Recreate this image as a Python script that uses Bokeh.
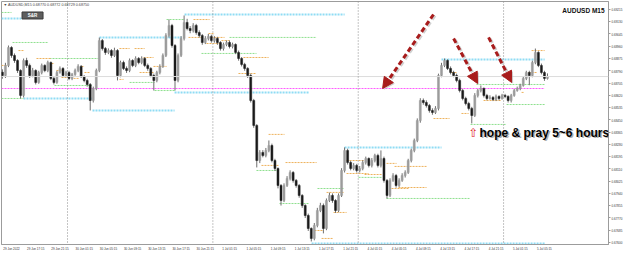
from bokeh.plotting import figure
from bokeh.models import (Range1d, FixedTicker, PrintfTickFormatter, Span, Label,
                          Arrow, NormalHead, AllLabels, ColumnDataSource)
from bokeh.embed import file_html
from bokeh.resources import INLINE

# ---------------- data (AUDUSD, index in M15 bars from 30 Jun 00:00, shown as 30-min candles) -------------
bar_index = list(range(-43, 318, 2))
first_open = 0.68780
closes = [
    0.68757, 0.68827, 0.68951, 0.68896, 0.68861, 0.68792, 0.68619, 0.68861, 0.68827, 0.68757,
    0.68792, 0.68709, 0.68778, 0.68827, 0.68792, 0.68847, 0.68737, 0.68709, 0.68778, 0.68806,
    0.68757, 0.68778, 0.68737, 0.68764, 0.68792, 0.68820, 0.68750, 0.68723, 0.68695, 0.68584,
    0.68667, 0.68792, 0.68999, 0.68944, 0.68917, 0.68930, 0.68896, 0.68930, 0.68757, 0.68847,
    0.68806, 0.68792, 0.68861, 0.68827, 0.68875, 0.68847, 0.68875, 0.68827, 0.68806, 0.68757,
    0.68723, 0.68778, 0.68820, 0.68896, 0.69034, 0.69104, 0.68965, 0.68723, 0.68896, 0.69014,
    0.69125, 0.69083, 0.69069, 0.69104, 0.69055, 0.69034, 0.68986, 0.69014, 0.69028, 0.68999,
    0.69014, 0.68986, 0.68944, 0.68972, 0.68986, 0.68958, 0.68972, 0.68917, 0.68875, 0.68834,
    0.68806, 0.68757, 0.68584, 0.68411, 0.68168, 0.68224, 0.68203, 0.68238, 0.68272, 0.68168,
    0.68113, 0.67995, 0.67891, 0.67995, 0.68044, 0.68085, 0.68030, 0.67995, 0.67926, 0.67856,
    0.67787, 0.67697, 0.67628, 0.67718, 0.67822, 0.67856, 0.67697, 0.67891, 0.67926, 0.67891,
    0.67822, 0.67926, 0.68099, 0.68238, 0.68154, 0.68113, 0.68134, 0.68099, 0.68113, 0.68154,
    0.68182, 0.68134, 0.68168, 0.68203, 0.68134, 0.68182, 0.68030, 0.67926, 0.68030, 0.68064,
    0.67995, 0.68030, 0.68064, 0.68085, 0.68168, 0.68238, 0.68307, 0.68445, 0.68584, 0.68570,
    0.68549, 0.68515, 0.68501, 0.68529, 0.68757, 0.68827, 0.68861, 0.68806, 0.68778, 0.68757,
    0.68723, 0.68653, 0.68598, 0.68563, 0.68529, 0.68480, 0.68619, 0.68653, 0.68667, 0.68619,
    0.68598, 0.68605, 0.68591, 0.68612, 0.68598, 0.68619, 0.68612, 0.68584, 0.68619, 0.68653,
    0.68667, 0.68688, 0.68737, 0.68778, 0.68757, 0.68847, 0.68917, 0.68827, 0.68778, 0.68737,
    0.68750]
highs = [
    0.68800, 0.68845, 0.68965, 0.68960, 0.68910, 0.68870, 0.68800, 0.68875, 0.68880, 0.68840,
    0.68810, 0.68800, 0.68790, 0.68840, 0.68835, 0.68860, 0.68855, 0.68750, 0.68790, 0.68820,
    0.68815, 0.68790, 0.68790, 0.68775, 0.68805, 0.68835, 0.68830, 0.68760, 0.68735, 0.68705,
    0.68680, 0.68805, 0.69020, 0.69010, 0.68955, 0.68945, 0.68940, 0.68950, 0.68940, 0.68860,
    0.68860, 0.68820, 0.68875, 0.68870, 0.68890, 0.68885, 0.68890, 0.68885, 0.68840, 0.68815,
    0.68770, 0.68790, 0.68835, 0.68910, 0.69050, 0.69145, 0.69115, 0.68975, 0.68910, 0.69030,
    0.69173, 0.69150, 0.69100, 0.69120, 0.69115, 0.69070, 0.69045, 0.69030, 0.69045, 0.69040,
    0.69030, 0.69025, 0.68995, 0.68985, 0.69000, 0.69000, 0.68985, 0.68980, 0.68930, 0.68885,
    0.68845, 0.68815, 0.68770, 0.68595, 0.68420, 0.68240, 0.68240, 0.68255, 0.68307, 0.68285,
    0.68180, 0.68120, 0.68005, 0.68010, 0.68060, 0.68100, 0.68095, 0.68040, 0.68005, 0.67935,
    0.67865, 0.67800, 0.67705, 0.67735, 0.67840, 0.67875, 0.67870, 0.67905, 0.67945, 0.67940,
    0.67900, 0.67940, 0.68115, 0.68259, 0.68250, 0.68165, 0.68150, 0.68145, 0.68130, 0.68170,
    0.68195, 0.68190, 0.68185, 0.68215, 0.68215, 0.68238, 0.68195, 0.68040, 0.68045, 0.68080,
    0.68075, 0.68045, 0.68080, 0.68100, 0.68180, 0.68250, 0.68320, 0.68460, 0.68600, 0.68598,
    0.68585, 0.68560, 0.68530, 0.68545, 0.68770, 0.68845, 0.68875, 0.68870, 0.68820, 0.68790,
    0.68770, 0.68735, 0.68665, 0.68610, 0.68575, 0.68540, 0.68635, 0.68665, 0.68688, 0.68675,
    0.68630, 0.68620, 0.68615, 0.68625, 0.68620, 0.68630, 0.68630, 0.68620, 0.68630, 0.68665,
    0.68680, 0.68700, 0.68750, 0.68790, 0.68790, 0.68860, 0.68944, 0.68925, 0.68840, 0.68790,
    0.68772]
lows = [
    0.68735, 0.68740, 0.68815, 0.68880, 0.68845, 0.68775, 0.68598, 0.68605, 0.68810, 0.68740,
    0.68745, 0.68695, 0.68700, 0.68765, 0.68780, 0.68780, 0.68725, 0.68695, 0.68700, 0.68770,
    0.68745, 0.68745, 0.68725, 0.68725, 0.68755, 0.68780, 0.68740, 0.68710, 0.68680, 0.68515,
    0.68570, 0.68655, 0.68780, 0.68930, 0.68900, 0.68905, 0.68880, 0.68885, 0.68723, 0.68745,
    0.68795, 0.68775, 0.68780, 0.68815, 0.68815, 0.68835, 0.68835, 0.68815, 0.68790, 0.68745,
    0.68653, 0.68710, 0.68765, 0.68810, 0.68885, 0.69020, 0.68950, 0.68653, 0.68710, 0.68885,
    0.69000, 0.69070, 0.69050, 0.69055, 0.69040, 0.69020, 0.68970, 0.68975, 0.69000, 0.68985,
    0.68985, 0.68970, 0.68930, 0.68930, 0.68960, 0.68945, 0.68945, 0.68905, 0.68860, 0.68820,
    0.68790, 0.68740, 0.68570, 0.68395, 0.68120, 0.68150, 0.68190, 0.68190, 0.68225, 0.68155,
    0.68095, 0.67975, 0.67856, 0.67880, 0.67985, 0.68030, 0.68015, 0.67980, 0.67910, 0.67840,
    0.67770, 0.67680, 0.67607, 0.67615, 0.67705, 0.67810, 0.67663, 0.67685, 0.67880, 0.67875,
    0.67805, 0.67810, 0.67915, 0.68085, 0.68140, 0.68100, 0.68100, 0.68085, 0.68085, 0.68100,
    0.68140, 0.68120, 0.68120, 0.68155, 0.68120, 0.68120, 0.68015, 0.67905, 0.67915, 0.68020,
    0.67980, 0.67985, 0.68020, 0.68050, 0.68075, 0.68155, 0.68225, 0.68295, 0.68430, 0.68555,
    0.68535, 0.68500, 0.68485, 0.68490, 0.68515, 0.68745, 0.68815, 0.68795, 0.68765, 0.68745,
    0.68710, 0.68640, 0.68585, 0.68550, 0.68515, 0.68425, 0.68470, 0.68605, 0.68640, 0.68605,
    0.68585, 0.68590, 0.68580, 0.68580, 0.68585, 0.68590, 0.68600, 0.68570, 0.68570, 0.68610,
    0.68645, 0.68655, 0.68680, 0.68725, 0.68690, 0.68745, 0.68835, 0.68815, 0.68765, 0.68720,
    0.68729]

# support / resistance levels: start bar, end bar, price
cyan_x0 = [-43.6, -29.1, 21.1, 16.5, 77.3, 70.7, 161.2, 183.0, 247.0]
cyan_x1 = [-30.4, 15.9, 75.3, 70.7, 183.0, 159.8, 315.1, 247.0, 315.1]
cyan_y = [0.69152, 0.68598, 0.69021, 0.68515, 0.69180, 0.68640, 0.67593, 0.68259, 0.68868]

green_x0 = [-43.6, -36.3, -11.9, -8.6, -43.6, 41.0, 65.4, 88.5, 107.0, 57.5, 124.8, 140.0,
            165.1, 192.2, 210.7, 270.1, 266.2, 290.0]
green_x1 = [-37.0, -12.5, 20.5, 15.9, -29.1, 57.5, 77.3, 124.8, 164.5, 70.7, 138.0, 159.8,
            182.3, 207.4, 265.5, 315.1, 290.0, 315.1]
green_y = [0.69194, 0.68986, 0.68875, 0.68688, 0.68598, 0.68709, 0.69145, 0.68910, 0.69021,
           0.68653, 0.68099, 0.67870, 0.67974, 0.68051, 0.67905, 0.68695, 0.68418, 0.68556]

orange_x0 = [-32.4, -20.5, -43.6, -10.6, -7.3, -4.0, 4.0, 9.2, 11.2, 34.3, 44.3, 34.3, 47.6,
             50.2, 56.8, 83.2, 79.9, 93.1, 91.8, 95.1, 101.7, 116.2, 112.9, 132.8, 128.1,
             144.0, 171.1, 175.7, 163.1, 167.8, 184.3, 184.3, 196.2, 210.7, 216.0, 214.0,
             218.6, 253.6, 241.7, 260.2, 274.8, 299.9, 304.5, 306.5]
orange_x1 = [-28.4, -10.6, -40.3, -8.6, -2.6, 1.3, 7.9, 11.2, 14.5, 41.0, 50.9, 37.0, 56.8,
             56.8, 65.4, 93.8, 89.8, 97.1, 100.4, 103.7, 107.0, 132.8, 124.8, 143.3, 139.4,
             164.5, 182.3, 184.3, 169.1, 175.7, 196.2, 198.8, 207.4, 217.3, 237.1, 225.2,
             237.1, 256.9, 252.3, 264.9, 286.7, 301.8, 309.8, 315.1]
orange_y = [0.68930, 0.68875, 0.68827, 0.68840, 0.68792, 0.68743, 0.68737, 0.68820, 0.68778,
            0.68944, 0.68944, 0.68730, 0.68778, 0.68882, 0.68820, 0.69145, 0.69021, 0.69048,
            0.68979, 0.69021, 0.68999, 0.68882, 0.68771, 0.68349, 0.68134, 0.68154, 0.67947,
            0.67808, 0.67683, 0.67628, 0.68168, 0.68078, 0.68071, 0.68148, 0.68127, 0.67974,
            0.67981, 0.68778, 0.68459, 0.68494, 0.68584, 0.68640, 0.68778, 0.68930]

magenta_x0, magenta_x1, magenta_y = -43.6, 315.1, 0.68667
day_breaks = [0, 96, 192, 288]

price_ticks = [0.69215, 0.69130, 0.69045, 0.68960, 0.68875, 0.68790, 0.68705, 0.68620,
               0.68535, 0.68450, 0.68365, 0.68280, 0.68195, 0.68110, 0.68025, 0.67940,
               0.67855, 0.67770, 0.67685, 0.67600]
time_ticks = [-43, -27, -11, 5, 21, 37, 53, 69, 85, 101, 117, 133, 149, 165, 181, 197, 213,
              229, 245, 261, 277, 293, 309]
time_labels = ["29 Jun 2022", "29 Jun 17:15", "29 Jun 21:15", "30 Jun 01:15", "30 Jun 05:15",
               "30 Jun 09:15", "30 Jun 13:15", "30 Jun 17:15", "30 Jun 21:15", "1 Jul 01:15",
               "1 Jul 05:15", "1 Jul 09:15", "1 Jul 13:15", "1 Jul 17:15", "1 Jul 21:15",
               "4 Jul 01:15", "4 Jul 05:15", "4 Jul 09:15", "4 Jul 13:15", "4 Jul 17:15",
               "4 Jul 21:15", "5 Jul 01:15", "5 Jul 05:15"]

arrow_x0 = [241.7, 255.0, 278.1]
arrow_y0 = [0.69180, 0.69014, 0.69021]
arrow_x1 = [208.1, 270.8, 293.3]
arrow_y1 = [0.68667, 0.68702, 0.68709]

note_x, note_y = 272.1, 0.68362
header = "\u25bc AUDUSD,M15  0.68770 0.68772 0.68729 0.68750"

# ---------------- figure ----------------
p = figure(frame_width=607, frame_height=243,
           x_range=Range1d(-43.6, 357.3), y_range=Range1d(0.67586, 0.69270),
           y_axis_location="right", output_backend="svg", toolbar_location=None,
           min_border_left=1, min_border_top=1, min_border_bottom=13, min_border_right=0,
           background_fill_color="white", border_fill_color="white",
           outline_line_color="#9c9c9c")
p.grid.visible = False

ax = p.yaxis[0]
ax.ticker = FixedTicker(ticks=price_ticks)
ax.formatter = PrintfTickFormatter(format="%.5f")
ax.major_label_text_font_size = "3px"
ax.major_label_text_color = "#333333"
ax.major_tick_out = 2
ax.major_tick_in = 0
ax.minor_tick_out = 0
ax.minor_tick_in = 0
ax.major_label_standoff = 1
ax.axis_line_color = "#9c9c9c"
ax.major_tick_line_color = "#9c9c9c"

# MetaTrader writes each time label starting at its bar; Bokeh centres labels,
# so the tick sits under the middle of the label text.
label_shift = 6
shown_ticks = [t + label_shift for t in time_ticks]
bx = p.xaxis[0]
bx.ticker = FixedTicker(ticks=shown_ticks)
bx.major_label_overrides = {t: s for t, s in zip(shown_ticks, time_labels)}
bx.major_label_policy = AllLabels()
bx.major_label_text_font_size = "3px"
bx.major_label_text_color = "#333333"
bx.major_tick_out = 0
bx.major_tick_in = 0
bx.minor_tick_out = 0
bx.minor_tick_in = 0
bx.major_label_standoff = 3
bx.axis_line_color = "#9c9c9c"

# bid line and day separators
p.add_layout(Span(location=closes[-1], dimension="width", line_color="#dcdcdc", line_width=1))
for d in day_breaks:
    p.add_layout(Span(location=d, dimension="height", line_color="#8a8a8a",
                      line_width=1, line_dash="1 2"))

# levels
p.segment(x0=cyan_x0, x1=cyan_x1, y0=cyan_y, y1=cyan_y, line_color="#8fdcf4",
          line_width=2, line_dash="2 1")
p.segment(x0=green_x0, x1=green_x1, y0=green_y, y1=green_y, line_color="#8ee08e",
          line_width=1, line_dash="2 1")
p.segment(x0=orange_x0, x1=orange_x1, y0=orange_y, y1=orange_y, line_color="#eeb25c",
          line_width=1, line_dash="2 1")
p.segment(x0=[magenta_x0], x1=[magenta_x1], y0=[magenta_y], y1=[magenta_y],
          line_color="#ff5cff", line_width=1, line_dash="2 1")

# candles
opens = [first_open] + closes[:-1]
src = ColumnDataSource(dict(
    x=bar_index, high=highs, low=lows,
    top=[max(o, c) for o, c in zip(opens, closes)],
    bottom=[min(o, c) for o, c in zip(opens, closes)],
    color=["#9c9c9c" if c >= o else "#1a1a1a" for o, c in zip(opens, closes)]))
p.segment(x0="x", x1="x", y0="high", y1="low", source=src, line_color="#6e6e6e", line_width=1)
p.vbar(x="x", width=1.3, top="top", bottom="bottom", source=src,
       fill_color="color", line_color="color", line_width=0.5)

# arrows (shadow + red dashed)
for x0, y0, x1, y1 in zip(arrow_x0, arrow_y0, arrow_x1, arrow_y1):
    p.add_layout(Arrow(x_start=x0 + 1, y_start=y0 - 0.00008, x_end=x1 + 1, y_end=y1 - 0.00008,
                       line_color="#b0b0b0", line_alpha=0.6, line_width=3, line_dash="5 3",
                       end=NormalHead(size=11, fill_color="#b0b0b0", fill_alpha=0.6,
                                      line_color=None)))
    p.add_layout(Arrow(x_start=x0, y_start=y0, x_end=x1, y_end=y1,
                       line_color="#a81c1c", line_width=3, line_dash="5 3",
                       end=NormalHead(size=11, fill_color="#a81c1c", line_color="#a81c1c")))

# annotation text
p.add_layout(Label(x=note_x, y=note_y, x_offset=1.5, y_offset=-1.5,
                   text="hope & pray 5~6 hours", text_font="Liberation Sans",
                   text_font_style="bold", text_font_size="12px", text_color="#8c8c8c",
                   text_alpha=0.7, text_baseline="middle"))
p.add_layout(Label(x=note_x, y=note_y, text="hope & pray 5~6 hours",
                   text_font="Liberation Sans", text_font_style="bold",
                   text_font_size="12px", text_color="#000000", text_baseline="middle"))
p.add_layout(Label(x=note_x, y=note_y, x_offset=-6, text="\u21e7",
                   text_font="DejaVu Sans", text_font_size="12px",
                   text_color="#e02828", text_baseline="middle", text_align="center"))

# header & symbol title
p.add_layout(Label(x=-42.3, y=0.69249, text=header, text_font="Liberation Sans",
                   text_font_size="3.7px", text_color="#444444", text_baseline="middle"))
p.add_layout(Label(x=354.7, y=0.69208, text="AUDUSD M15", text_font="Liberation Sans",
                   text_font_style="bold", text_font_size="6.5px", text_color="#111111",
                   text_align="right", text_baseline="middle"))

# S&R button
p.rect(x=[-23.1], y=[0.69173], width=21, height=7, width_units="screen",
       height_units="screen", fill_color="#5e5e5e", line_color="#3a3a3a")
p.add_layout(Label(x=-23.1, y=0.69173, text="S&R", text_font="Liberation Sans",
                   text_font_style="bold", text_font_size="4.5px", text_color="white",
                   text_align="center", text_baseline="middle"))

# current price tag on the price scale
p.add_layout(Label(x=357.6, y=closes[-1], text="0.68750", text_font="Liberation Sans",
                   text_font_size="3px", text_color="white", background_fill_color="#111111",
                   text_baseline="middle", x_offset=1))

open("out.html", "w").write(file_html(p, INLINE))
